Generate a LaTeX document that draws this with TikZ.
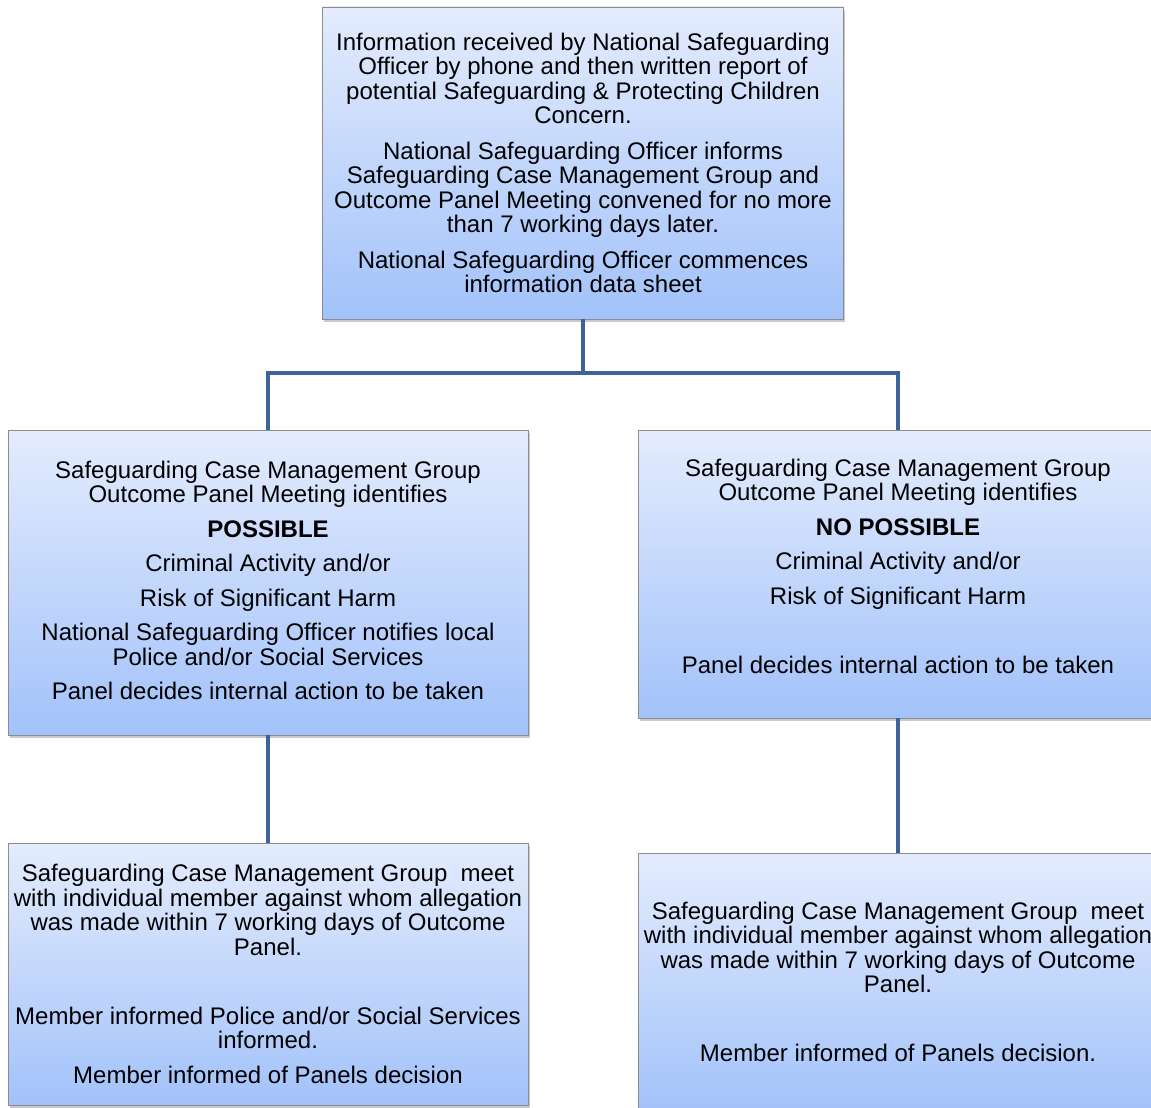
\documentclass[tikz,border=0pt]{standalone}
\usepackage{fontspec}
\setmainfont{Liberation Sans}
\usetikzlibrary{shadows}
\definecolor{conncol}{RGB}{60,100,152}
\definecolor{boxtop}{RGB}{228,236,253}
\definecolor{boxbot}{RGB}{162,194,250}
\definecolor{boxline}{RGB}{140,140,140}
\tikzset{
  flowbox/.style={draw=boxline, line width=0.8pt, top color=boxtop, bottom color=boxbot,
    inner sep=0pt, align=center, text=black,
    font=\fontsize{24}{24.5}\selectfont,
    drop shadow={shadow xshift=1.5pt, shadow yshift=-3pt, opacity=0.35, fill=black!60}},
  conn/.style={draw=conncol, line width=4pt}
}
\begin{document}
\begin{tikzpicture}[x=1pt,y=-1pt]
\useasboundingbox (0,0) rectangle (1151,1108);
\clip (0,0) rectangle (1151,1108);
\fill[white] (0,0) rectangle (1151,1108);

\node[flowbox, minimum width=521pt, minimum height=312pt] (top) at (583,163)
 {Information received by National Safeguarding\\
  Officer by phone and then written report of\\
  potential Safeguarding \& Protecting Children\\
  Concern.\\[11pt]
  National Safeguarding Officer informs\\
  Safeguarding Case Management Group and\\
  Outcome Panel Meeting convened for no more\\
  than 7 working days later.\\[11pt]
  National Safeguarding Officer commences\\
  information data sheet};

\node[flowbox, minimum width=520pt, minimum height=305pt] (lmid) at (268,582.5)
 {Safeguarding Case Management Group\\
  Outcome Panel Meeting identifies\\[10pt]
  \textbf{POSSIBLE}\\[10pt]
  Criminal Activity and/or\\[10pt]
  Risk of Significant Harm\\[10pt]
  National Safeguarding Officer notifies local\\
  Police and/or Social Services\\[10pt]
  Panel decides internal action to be taken\\[-20.5pt]\mbox{}};

\node[flowbox, minimum width=520pt, minimum height=288pt] (rmid) at (898,574)
 {Safeguarding Case Management Group\\
  Outcome Panel Meeting identifies\\[10pt]
  \textbf{NO POSSIBLE}\\[10pt]
  Criminal Activity and/or\\[10pt]
  Risk of Significant Harm\\[44.5pt]
  Panel decides internal action to be taken\\[-8.5pt]\mbox{}};

\node[flowbox, minimum width=520pt, minimum height=262pt] (lbot) at (268,974)
 {Safeguarding Case Management Group\ \ meet\\
  with individual member against whom allegation\\
  was made within 7 working days of Outcome\\
  Panel.\\[44.5pt]
  Member informed Police and/or Social Services\\
  informed.\\[10pt]
  Member informed of Panels decision};

\node[flowbox, minimum width=520pt, minimum height=258pt] (rbot) at (898,982)
 {Safeguarding Case Management Group\ \ meet\\
  with individual member against whom allegation\\
  was made within 7 working days of Outcome\\
  Panel.\\[44.5pt]
  Member informed of Panels decision.};

\coordinate (bar) at (583,373);
\draw[conn] (top.south) -- (bar);
\draw[conn] (lmid.north) |- (bar) -| (rmid.north);
\draw[conn] (lmid.south) -- (lbot.north);
\draw[conn] (rmid.south) -- (rbot.north);
\end{tikzpicture}
\end{document}
